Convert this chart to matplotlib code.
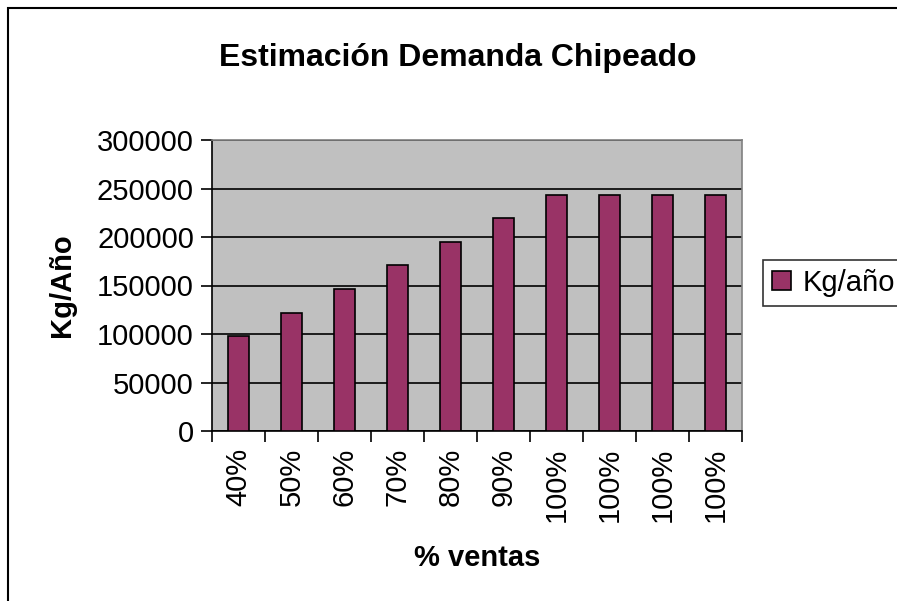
import matplotlib.pyplot as plt
import matplotlib.patches as mpatches
import numpy as np

categories = ["40%", "50%", "60%", "70%", "80%", "90%", "100%", "100%", "100%", "100%"]
kg_anio = [97500, 121875, 146250, 170625, 195000, 219375, 243750, 243750, 243750, 243750]
y_ticks = [0, 50000, 100000, 150000, 200000, 250000, 300000]

C_BAR = "#993366"
C_PLOT_BG = "#C0C0C0"

plt.rcParams["font.family"] = ["Liberation Sans", "DejaVu Sans"]

fig = plt.figure(figsize=(8.97, 6.01), dpi=100)
fig.patch.set_facecolor("white")
ax = fig.add_axes([212 / 897, 1 - 431 / 601, (742 - 212) / 897, (431 - 140) / 601])

x = np.arange(len(categories))
ax.bar(x, kg_anio, width=0.41, color=C_BAR, edgecolor="black", linewidth=1.2,
       zorder=3, label="Kg/año")

ax.set_facecolor(C_PLOT_BG)
ax.set_xlim(-0.5, len(categories) - 0.5)
ax.set_ylim(0, 300000)
ax.set_yticks(y_ticks)
ax.set_yticklabels([str(v) for v in y_ticks], fontsize=21)
ax.grid(axis="y", color="black", linewidth=1.2, zorder=1)
ax.set_axisbelow(True)

# category boundary ticks, labels at bar centers
ax.set_xticks(np.arange(len(categories) + 1) - 0.5)
ax.set_xticklabels([])
ax.set_xticks(x, minor=True)
ax.set_xticklabels(categories, minor=True, rotation=90, fontsize=21, va="top")
ax.tick_params(axis="x", which="major", length=8, width=1.2, direction="out")
ax.tick_params(axis="x", which="minor", length=0, pad=12)
ax.tick_params(axis="y", length=8, width=1.2, direction="out", pad=5)

for side in ("left", "bottom"):
    ax.spines[side].set_color("black")
    ax.spines[side].set_linewidth(1.2)
for side in ("top", "right"):
    ax.spines[side].set_color("#808080")
    ax.spines[side].set_linewidth(1.2)

fig.text(458 / 897, 1 - 58 / 601, "Estimación Demanda Chipeado", ha="center",
         va="center", fontsize=23, fontweight="bold")
fig.text(477 / 897, 1 - 558 / 601, "% ventas", ha="center", va="center",
         fontsize=21, fontweight="bold")
fig.text(62 / 897, 1 - 285 / 601, "Kg/Año", ha="center", va="center",
         rotation=90, fontsize=21, fontweight="bold")

leg = ax.legend(handles=[mpatches.Patch(facecolor=C_BAR, edgecolor="black",
                                        linewidth=1.2, label="Kg/año")],
                loc="center left", bbox_to_anchor=(763 / 897, 1 - 283 / 601),
                bbox_transform=fig.transFigure, fontsize=21, frameon=True,
                fancybox=False, edgecolor="black", handlelength=0.65,
                handleheight=0.65, handletextpad=0.4, borderpad=0.3,
                borderaxespad=0)
leg.get_frame().set_linewidth(1.2)

# outer chart frame
fig.add_artist(mpatches.Rectangle((8 / 897, -0.05), 1.0, 1 - 8 / 601 + 0.05,
                                  transform=fig.transFigure, fill=False,
                                  edgecolor="black", linewidth=1.5))

fig.savefig("out.png", dpi=100)
